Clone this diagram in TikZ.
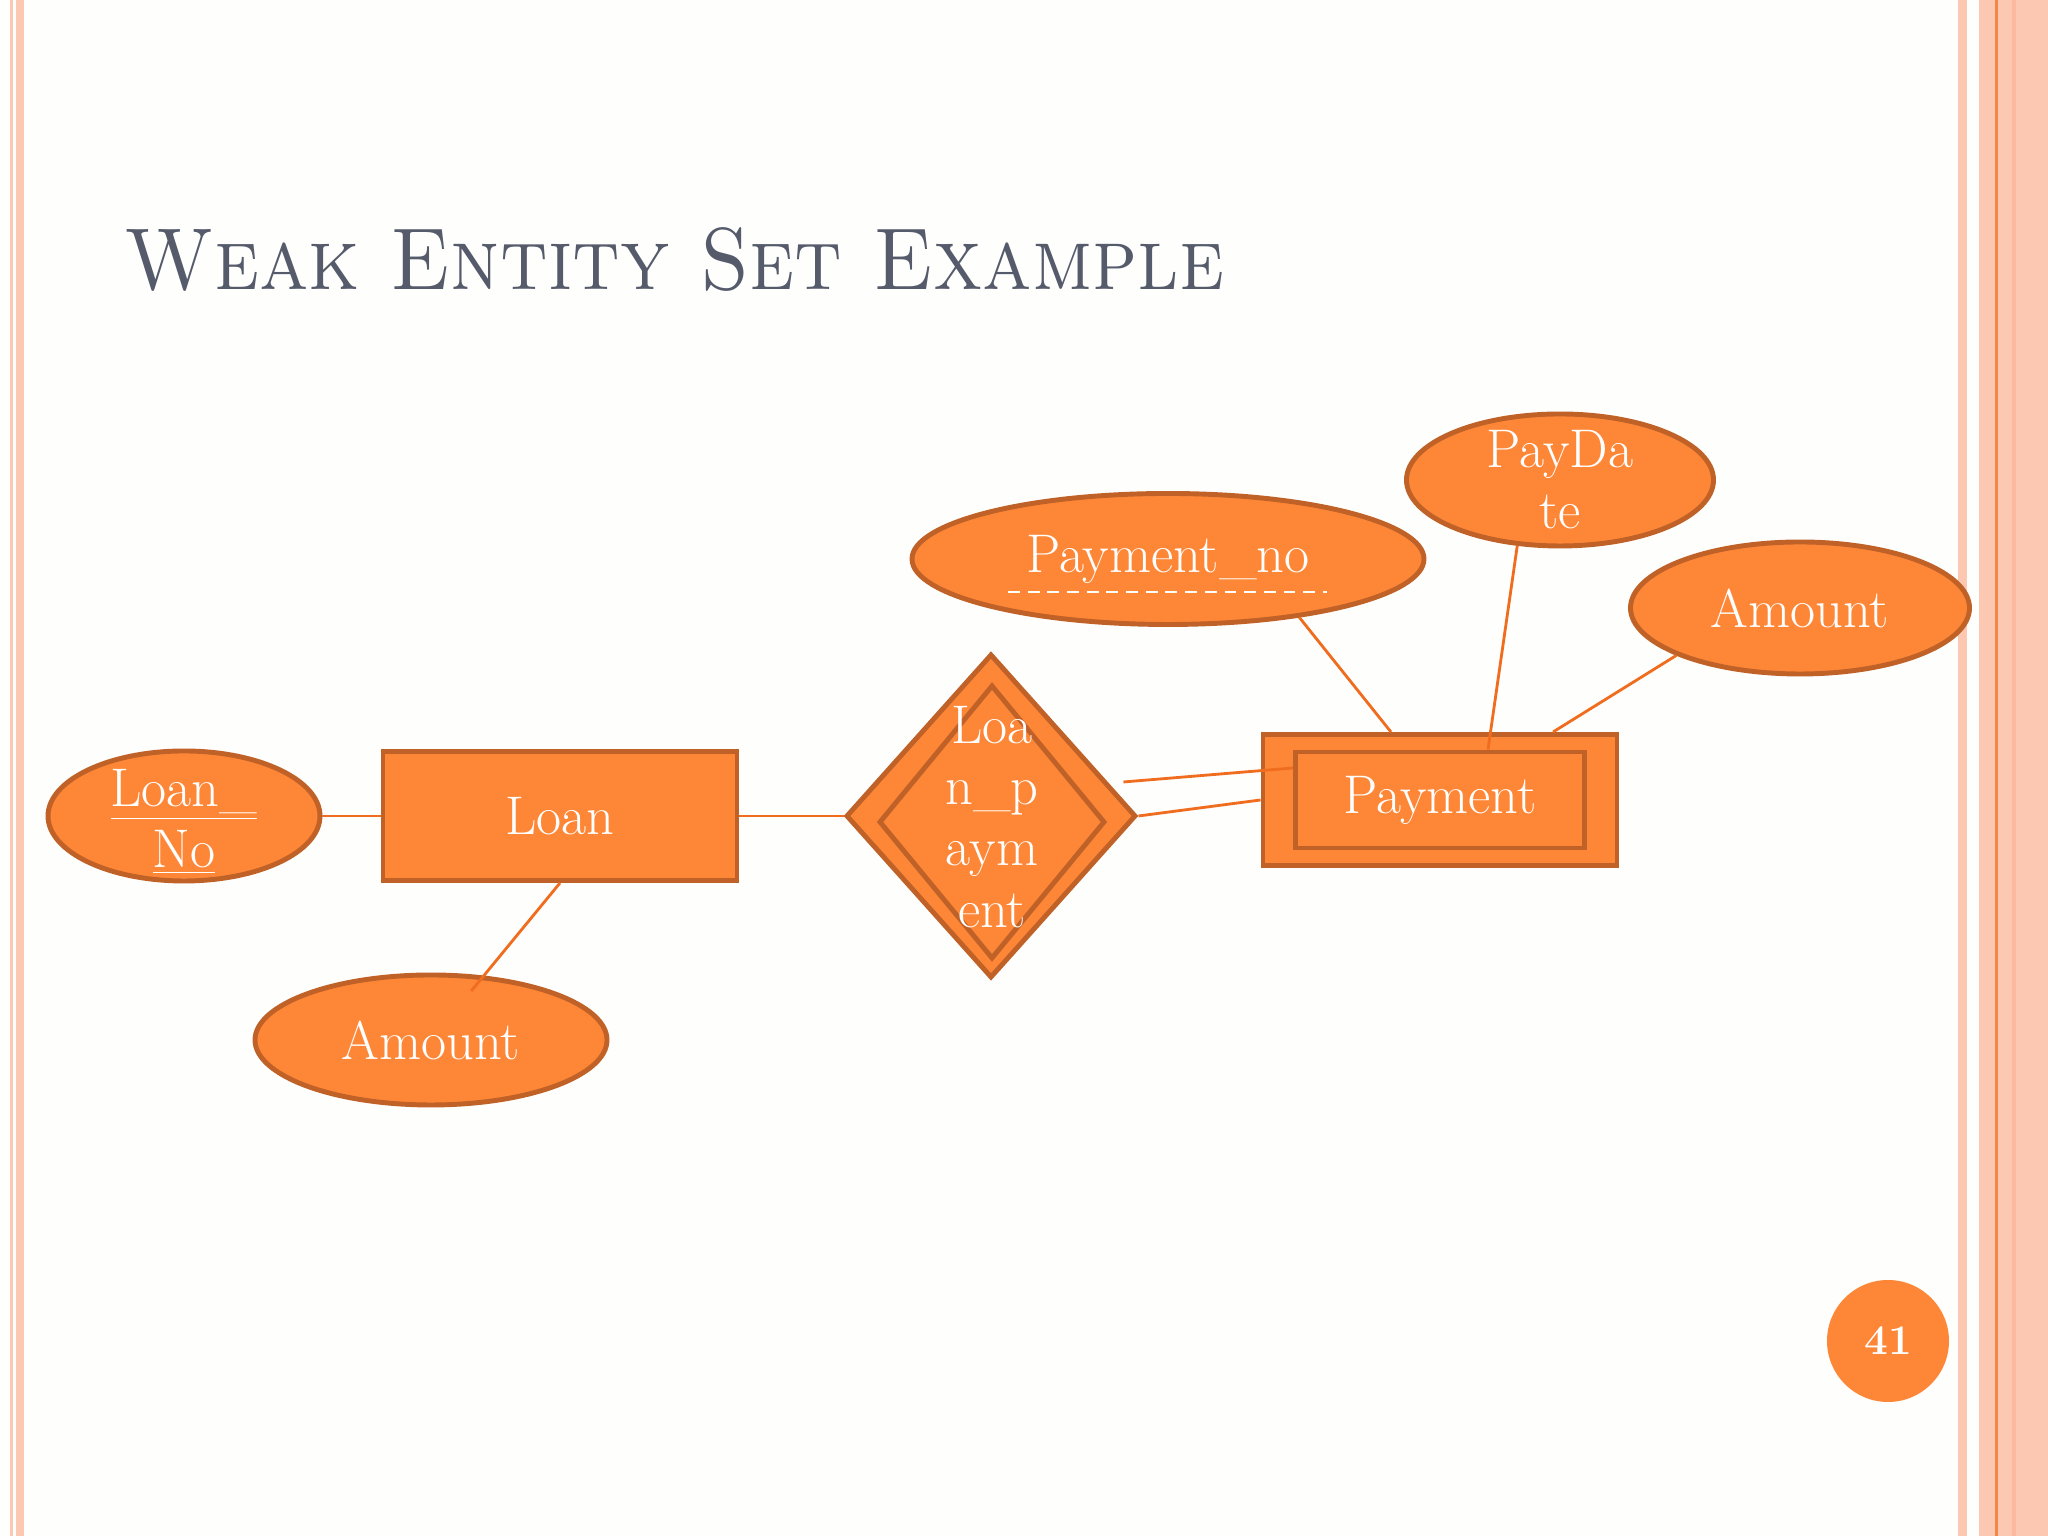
\documentclass[tikz,border=0pt]{standalone}
\usetikzlibrary{shapes.geometric,calc}
\definecolor{SlideBg}{RGB}{254,254,252}
\definecolor{StripePink}{RGB}{253,200,178}
\definecolor{StripeDeep}{RGB}{251,186,160}
\definecolor{EdgeOrange}{RGB}{245,135,70}
\definecolor{ShapeOrange}{RGB}{253,135,55}
\definecolor{ShapeRim}{RGB}{192,98,40}
\definecolor{LinkOrange}{RGB}{240,108,30}
\definecolor{TitleGrey}{RGB}{86,91,108}
\newcommand{\erfont}{\fontsize{15.5}{17.4}\selectfont}

\begin{document}
\begin{tikzpicture}[
  entity/.style={rectangle,fill=ShapeOrange,draw=ShapeRim,line width=1.4pt,
    text=white,font=\erfont,inner sep=0pt},
  attrib/.style={ellipse,fill=ShapeOrange,draw=ShapeRim,line width=1.4pt,
    text=white,font=\erfont,inner sep=0pt},
  relation/.style={diamond,fill=ShapeOrange,draw=ShapeRim,line width=1.4pt,inner sep=0pt},
  link/.style={LinkOrange,line width=0.8pt}]
  % slide and its side stripes
  \fill[SlideBg] (0,0) rectangle (20.48,15.36);
  \useasboundingbox (0,0) rectangle (20.48,15.36);
  \fill[StripePink] (0.10,0) rectangle (0.13,15.36);
  \fill[StripePink] (0.16,0) rectangle (0.24,15.36);
  \fill[StripePink] (19.58,0) rectangle (19.67,15.36);
  \fill[StripePink] (19.79,0) rectangle (20.48,15.36);
  \fill[StripeDeep] (20.12,0) rectangle (20.16,15.36);
  \fill[EdgeOrange] (19.95,0) rectangle (19.98,15.36);
  \node[TitleGrey,anchor=base west,inner sep=0pt,font=\fontsize{25}{30}\selectfont]
    (title) at (1.24,12.46) {\scalebox{0.92}[1]{\textsc{Weak Entity Set Example}}};

  % strong entity
  \node[entity,minimum width=3.54cm,minimum height=1.29cm] (loan) at (5.60,7.20) {Loan};
  \node[attrib,minimum width=2.72cm,minimum height=1.30cm,
    label={[white,align=center,font=\erfont,yshift=-0.6mm]center:{\underline{Loan\_}\\\underline{No}}}]
    (loanno) at (1.84,7.20) {};
  \node[attrib,minimum width=3.52cm,minimum height=1.30cm] (amt1) at (4.31,4.96) {Amount};

  % identifying relationship
  \node[relation,minimum width=2.90cm,minimum height=3.24cm] (dia) at (9.91,7.20) {};
  \node[relation,minimum width=2.26cm,minimum height=2.74cm,
    label={[white,align=center,font=\erfont,yshift=0.5mm]center:{Loa\\n\_p\\aym\\ent}}]
    (diain) at (9.92,7.14) {};

  % weak entity
  \node[entity,minimum width=3.54cm,minimum height=1.31cm] (pay) at (14.40,7.36) {};
  \node[entity,minimum width=2.89cm,minimum height=0.96cm] (payin) at (14.40,7.36) {Payment};
  \node[attrib,minimum width=5.12cm,minimum height=1.31cm] (pno) at (11.68,9.77) {Payment\_no};
  \draw[white,line width=0.6pt,dash pattern=on 3.4pt off 2.2pt]
    ([shift={(-1.60,-0.33)}]pno.center) -- ([shift={(1.59,-0.33)}]pno.center);
  \node[attrib,minimum width=3.07cm,minimum height=1.32cm,
    label={[white,align=center,font=\erfont]center:{PayDa\\te}}]
    (pdate) at (15.60,10.56) {};
  \node[attrib,minimum width=3.39cm,minimum height=1.32cm] (amt2) at (18.00,9.28) {Amount};

  % connectors
  \draw[link] (loanno.east) -- (loan.west);
  \draw[link,shorten >=-2mm] (loan.south) -- (amt1);
  \draw[link] (loan.east) -- (dia.west);
  \draw[link] (dia.east) -- (pay.west);
  \draw[link] ([shift={(-0.15,0.34)}]dia.east) -- ([yshift=3.2mm]payin.west);
  \draw[link] (pno.-24) -- ([xshift=-4.9mm]pay.north);
  \draw[link] (pdate.237) -- ([xshift=4.8mm]payin.north);
  \draw[link] (amt2.201) -- ([xshift=11.3mm]pay.north);

  % page number
  \node[circle,fill=ShapeOrange,minimum size=1.22cm,text=white,
    font=\bfseries\fontsize{12}{14}\selectfont] (pgno) at (18.88,1.95) {41};
\end{tikzpicture}
\end{document}
